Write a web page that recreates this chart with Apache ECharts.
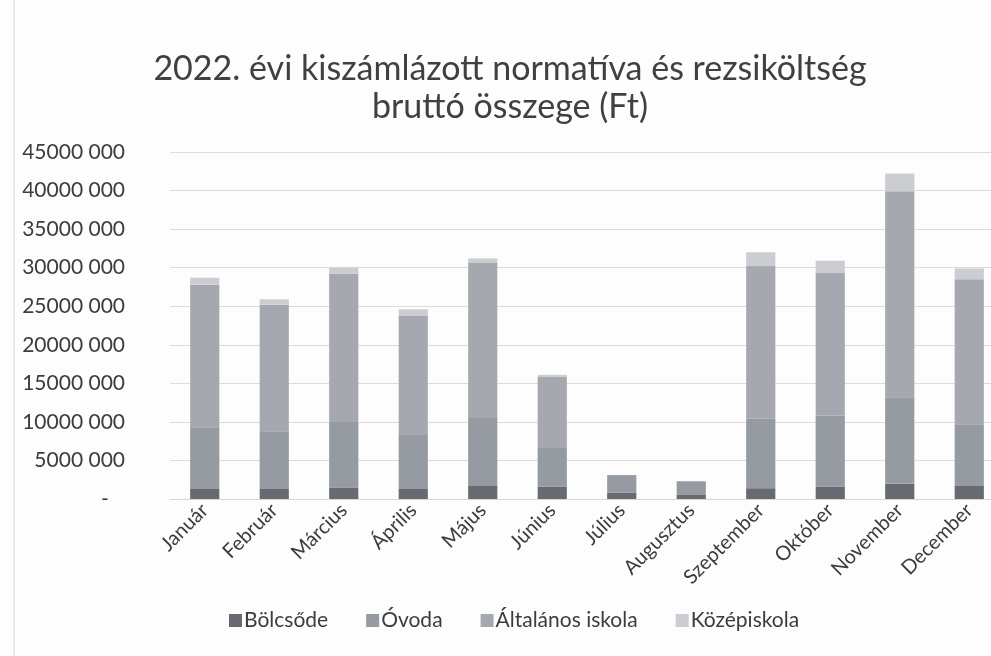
<!DOCTYPE html>
<html>
<head>
<meta charset="utf-8">
<script src="https://cdn.jsdelivr.net/npm/echarts@6/dist/echarts.min.js"></script>
<style>
  html, body { margin: 0; padding: 0; background: #fdfdfd; }
  #chart { width: 991px; height: 656px; }
</style>
</head>
<body>
<div id="chart"></div>
<script>
// havi bontás (Ft)
const months = ['Január', 'Február', 'Március', 'Április', 'Május', 'Június',
    'Július', 'Augusztus', 'Szeptember', 'Október', 'November', 'December'];
const bolcsode   = [1300000, 1300000, 1500000, 1300000, 1700000, 1600000, 800000, 600000, 1400000, 1600000, 2000000, 1700000];
const ovoda      = [8000000, 7500000, 8500000, 7000000, 8800000, 5000000, 2300000, 1700000, 9000000, 9200000, 11200000, 8000000];
const altalanos  = [18500000, 16400000, 19200000, 15500000, 20100000, 9300000, 0, 0, 19800000, 18500000, 26700000, 18800000];
const kozepiskola = [900000, 700000, 800000, 800000, 600000, 200000, 0, 0, 1800000, 1600000, 2300000, 1400000];
const seriesNames = ['Bölcsőde', 'Óvoda', 'Általános iskola', 'Középiskola'];
const yTickLabels = ['-', '5000 000', '10000 000', '15000 000', '20000 000', '25000 000',
    '30000 000', '35000 000', '40000 000', '45000 000'];

const colors = ['#676b71', '#969aa1', '#a5a9af', '#cbcdd0'];
const textColor = '#3c3c3c';
const font = 'Lato';

const chart = echarts.init(document.getElementById('chart'));
const data = [bolcsode, ovoda, altalanos, kozepiskola];

const option = {
    backgroundColor: '#fdfdfd',
    animation: false,
    title: {
        text: '2022. évi kiszámlázott normatíva és rezsiköltség\nbruttó összege (Ft)',
        left: 505, top: 45, textAlign: 'center',
        textStyle: { fontFamily: font, fontSize: 34, fontWeight: 'normal', color: '#404040', lineHeight: 38 }
    },
    legend: {
        data: seriesNames,
        bottom: 20, left: 224,
        itemWidth: 13, itemHeight: 13, itemGap: 38,
        icon: 'rect',
        textStyle: { fontFamily: font, fontSize: 21, color: textColor, padding: [0, 0, 0, -3] }
    },
    grid: { left: 170, right: -13, top: 152, bottom: 157, outerBoundsMode: 'none' },
    xAxis: {
        type: 'category',
        data: months,
        axisTick: { show: false },
        axisLine: { lineStyle: { color: '#d6d6d6' } },
        axisLabel: {
            rotate: 45, interval: 0, margin: 8,
            fontFamily: font, fontSize: 20, color: textColor
        }
    },
    yAxis: {
        type: 'value',
        min: 0, max: 45000000, interval: 5000000,
        axisLine: { show: false },
        axisTick: { show: false },
        splitLine: { lineStyle: { color: '#dcdcdc' } },
        axisLabel: {
            margin: 45,
            fontFamily: font, fontSize: 21, color: textColor,
            formatter: (v) => {
                const s = yTickLabels[Math.round(v / 5000000)];
                return s === '-' ? '-   ' : s;
            }
        }
    },
    series: data.map((d, i) => ({
        name: seriesNames[i],
        type: 'bar',
        stack: 'total',
        barWidth: '42%',
        itemStyle: { color: colors[i] },
        data: d
    })),
    graphic: [{
        type: 'line',
        shape: { x1: 14, y1: 0, x2: 14, y2: 656 },
        style: { stroke: '#d0d0d0', lineWidth: 1 }
    }]
};
chart.setOption(option);
</script>
</body>
</html>
